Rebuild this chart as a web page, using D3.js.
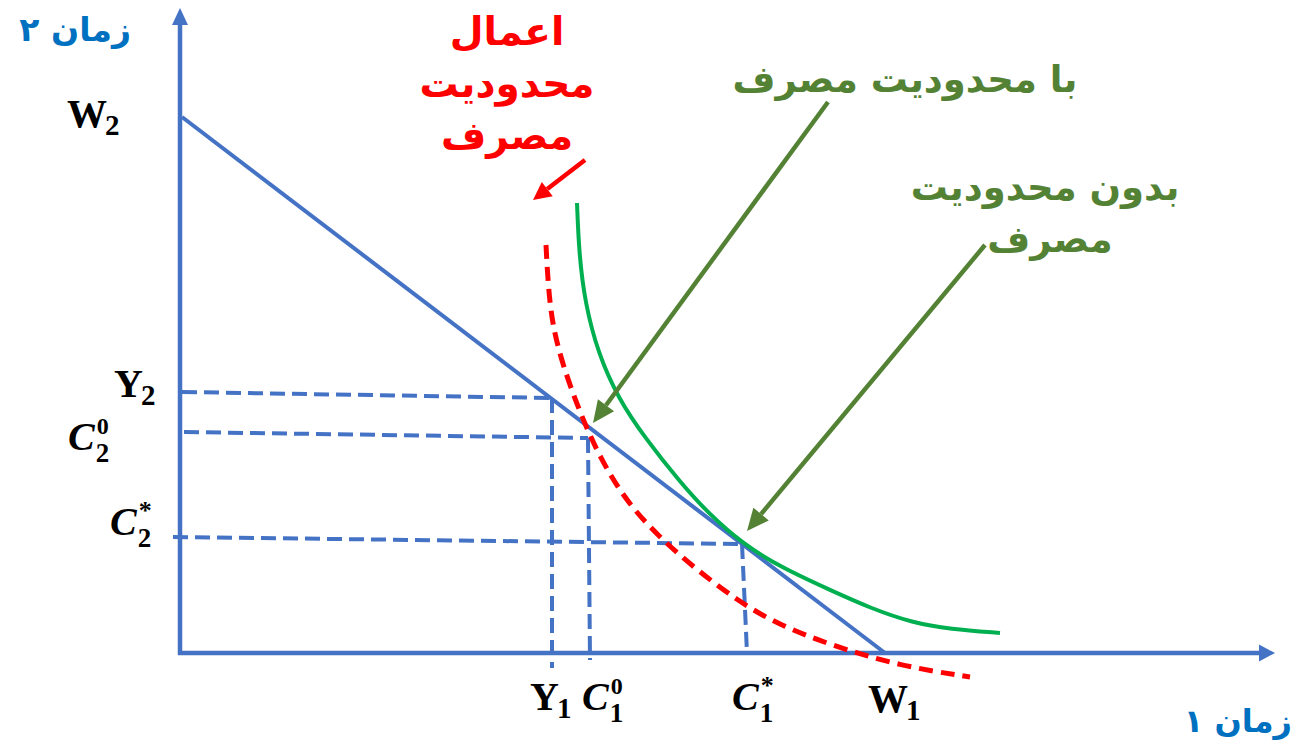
<!DOCTYPE html>
<html>
<head>
<meta charset="utf-8">
<script src="https://cdn.jsdelivr.net/npm/d3@7"></script>
<style>
  body { margin: 0; background: #fff; }
  svg { display: block; }
</style>
</head>
<body>
<script>
const WIDTH = 1294;
const HEIGHT = 741;

// Datos de la figura (unidades del gráfico, origen en la intersección de los ejes)
const recta = [[0.2, 53.6], [70.5, 0]];               // W2 -> W1
const curvaSinRestriccion = [[39.7, 45.0], [39.9, 40.0], [40.5, 35.0], [41.8, 30.0], [43.8, 25.5],
  [46.5, 21.5], [50, 17.1], [53, 13.8], [56.2, 11.0], [60, 8.6], [65, 6.3], [69, 4.5],
  [73.3, 3.0], [77, 2.4], [82, 2.0]];
const curvaConRestriccion = [[36.6, 40.8], [36.8, 37.0], [37.2, 33.0], [38.2, 29.0], [40.0, 24.0],
  [42, 19.5], [45, 14.5], [50, 9.6], [56, 5.0], [60, 2.8], [65, 0.8], [72, -1.3], [79, -2.4]];
// líneas guía: x arriba/abajo, y izquierda/derecha
const guias = [
  { xArriba: 37.2, xAbajo: 37.2, yIzq: 26.1, yDer: 25.5, inicio: 0.2, pie: -1.5 },
  { xArriba: 40.8, xAbajo: 41.0, yIzq: 22.1, yDer: 21.5, inicio: 0.4, pie: -0.7 },
  { xArriba: 56.2, xAbajo: 56.7, yIzq: 11.6, yDer: 10.9, inicio: -0.7, pie: 0 }
];
const etiquetasX = [
  { base: "Y", sub: "1", sup: "", italic: false },
  { base: "C", sub: "1", sup: "0", italic: true },
  { base: "C", sub: "1", sup: "*", italic: true },
  { base: "W", sub: "1", sup: "", italic: false }
];
const etiquetasY = [
  { base: "W", sub: "2", sup: "", italic: false },
  { base: "Y", sub: "2", sup: "", italic: false },
  { base: "C", sub: "2", sup: "0", italic: true },
  { base: "C", sub: "2", sup: "*", italic: true }
];
const textoRojo = ["اعمال", "محدودیت", "مصرف"];
const textoVerde1 = ["با محدودیت مصرف"];
const textoVerde2 = ["بدون محدودیت", "مصرف"];
const ejeY = "زمان ۲";
const ejeX = "زمان ۱";

const AZUL = "#4472C4";
const VERDE = "#00B050";
const VERDE_OSCURO = "#548235";
const ROJO = "#FF0000";
const FUENTE = "DejaVu Sans";
const SERIF = "Liberation Serif";

const svg = d3.select("body").append("svg")
  .attr("width", WIDTH)
  .attr("height", HEIGHT);

const x = d3.scaleLinear().domain([0, 110]).range([180, 1280]);
const y = d3.scaleLinear().domain([0, 64.5]).range([653, 8]);

// Flecha simple: línea + punta triangular
function flecha(x1, y1, x2, y2, color, ancho, largo, media) {
  const ang = Math.atan2(y2 - y1, x2 - x1);
  const bx = x2 - largo * Math.cos(ang);
  const by = y2 - largo * Math.sin(ang);
  svg.append("line")
    .attr("x1", x1).attr("y1", y1).attr("x2", bx).attr("y2", by)
    .attr("stroke", color).attr("stroke-width", ancho);
  const px = -Math.sin(ang) * media, py = Math.cos(ang) * media;
  svg.append("path")
    .attr("d", `M${x2},${y2}L${bx + px},${by + py}L${bx - px},${by - py}Z`)
    .attr("fill", color);
}

// Ejes
flecha(x(0), y(-0.2), x(0), y(64.5), AZUL, 4.5, 17, 8);
flecha(x(-0.2), y(0), x(109.5), y(0), AZUL, 4.5, 16, 8.5);

// Líneas guía punteadas
guias.forEach(g => {
  svg.append("line")
    .attr("x1", x(g.inicio)).attr("y1", y(g.yIzq))
    .attr("x2", x(g.xArriba)).attr("y2", y(g.yDer))
    .attr("stroke", AZUL).attr("stroke-width", 4)
    .attr("stroke-dasharray", "15,7");
  svg.append("line")
    .attr("x1", x(g.xArriba)).attr("y1", y(g.yDer))
    .attr("x2", x(g.xAbajo)).attr("y2", y(g.pie))
    .attr("stroke", AZUL).attr("stroke-width", 4)
    .attr("stroke-dasharray", "15,7");
});

// Recta presupuestaria
svg.append("line")
  .attr("x1", x(recta[0][0])).attr("y1", y(recta[0][1]))
  .attr("x2", x(recta[1][0])).attr("y2", y(recta[1][1]))
  .attr("stroke", AZUL).attr("stroke-width", 4);

const linea = d3.line()
  .x(d => x(d[0]))
  .y(d => y(d[1]))
  .curve(d3.curveBasis);

svg.append("path")
  .attr("d", linea(curvaSinRestriccion))
  .attr("fill", "none")
  .attr("stroke", VERDE)
  .attr("stroke-width", 4);

svg.append("path")
  .attr("d", linea(curvaConRestriccion))
  .attr("fill", "none")
  .attr("stroke", ROJO)
  .attr("stroke-width", 5)
  .attr("stroke-dasharray", "14,8");

// Flechas de las anotaciones
flecha(828, 102, 593, 423, VERDE_OSCURO, 4.5, 22, 10);
flecha(985, 245, 747, 531, VERDE_OSCURO, 4.5, 22, 10);
flecha(585, 160, 533, 200, ROJO, 4.5, 18, 9);

// Textos persas
svg.append("text")
  .attr("x", 131).attr("y", 41)
  .attr("text-anchor", "end")
  .attr("font-family", FUENTE).attr("font-weight", "bold")
  .attr("font-size", 33).attr("fill", "#0070C0")
  .text(ejeY);

svg.append("text")
  .attr("x", 1292).attr("y", 732)
  .attr("text-anchor", "end")
  .attr("font-family", FUENTE).attr("font-weight", "bold")
  .attr("font-size", 32).attr("fill", "#0070C0")
  .text(ejeX);

svg.selectAll("text.rojo")
  .data(textoRojo)
  .join("text")
  .attr("class", "rojo")
  .attr("x", 507)
  .attr("y", (d, i) => 45 + i * 52)
  .attr("text-anchor", "middle")
  .attr("font-family", FUENTE).attr("font-weight", "bold")
  .attr("font-size", 39).attr("fill", ROJO)
  .text(d => d);

svg.selectAll("text.verde1")
  .data(textoVerde1)
  .join("text")
  .attr("class", "verde1")
  .attr("x", 905).attr("y", 92)
  .attr("text-anchor", "middle")
  .attr("font-family", FUENTE).attr("font-weight", "bold")
  .attr("font-size", 37).attr("fill", VERDE_OSCURO)
  .text(d => d);

svg.selectAll("text.verde2")
  .data(textoVerde2)
  .join("text")
  .attr("class", "verde2")
  .attr("x", (d, i) => i === 0 ? 1045 : 1050)
  .attr("y", (d, i) => 200 + i * 52)
  .attr("text-anchor", "middle")
  .attr("font-family", FUENTE).attr("font-weight", "bold")
  .attr("font-size", 37).attr("fill", VERDE_OSCURO)
  .text(d => d);

// Etiquetas matemáticas: base, superíndice y subíndice como textos separados
function etiqueta(d, cx, cy) {
  const base = svg.append("text")
    .attr("x", cx).attr("y", cy)
    .attr("font-family", SERIF).attr("font-weight", "bold")
    .attr("font-style", d.italic ? "italic" : "normal")
    .attr("font-size", 40).attr("fill", "#000")
    .text(d.base);
  const ancho = base.node().getComputedTextLength();
  const sx = cx + ancho + (d.italic ? 1 : -2);
  if (d.sup) {
    svg.append("text")
      .attr("x", sx + 1).attr("y", cy - 16)
      .attr("font-family", SERIF).attr("font-weight", "bold")
      .attr("font-size", d.sup === "*" ? 26 : 24).attr("fill", "#000")
      .text(d.sup);
    svg.append("text")
      .attr("x", sx).attr("y", cy + 12)
      .attr("font-family", SERIF).attr("font-weight", "bold")
      .attr("font-size", 27).attr("fill", "#000")
      .text(d.sub);
  } else {
    svg.append("text")
      .attr("x", sx).attr("y", cy + 8)
      .attr("font-family", SERIF).attr("font-weight", "bold")
      .attr("font-size", 29).attr("fill", "#000")
      .text(d.sub);
  }
}

const posX = [[530, 710], [582, 710], [732, 710], [868, 712]];
etiquetasX.forEach((d, i) => etiqueta(d, posX[i][0], posX[i][1]));
const posY = [[67, 127], [114, 397], [68, 450], [110, 535]];
etiquetasY.forEach((d, i) => etiqueta(d, posY[i][0], posY[i][1]));
</script>
</body>
</html>
